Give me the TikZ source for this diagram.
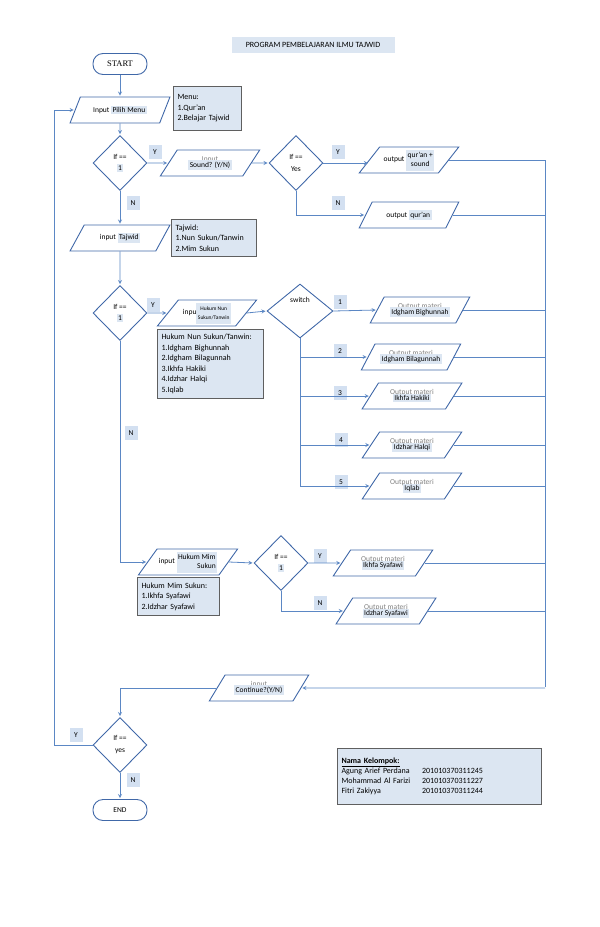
\documentclass[tikz,border=0pt]{standalone}
\usepackage{fontspec}
\setmainfont{Carlito}
\newfontfamily\startfont{Liberation Serif}
\usepackage{tikz}
\usetikzlibrary{arrows,shapes}
\usetikzlibrary{positioning}

\definecolor{lineblue}{HTML}{5B87C4}
\definecolor{edgeblue}{HTML}{4068A8}
\definecolor{boxfill}{HTML}{DCE6F2}
\definecolor{tagfill}{HTML}{D3E0F1}
\definecolor{boxedge}{HTML}{5F5F5F}
\newcommand{\hl}[1]{{\setlength{\fboxsep}{1.5pt}\colorbox{boxfill}{#1}}}
\newcommand{\hlb}[1]{{\setlength{\fboxsep}{1.5pt}\colorbox{boxfill}{\begin{tabular}{@{}c@{}}#1\end{tabular}}}}

\begin{document}
\begin{tikzpicture}[x=1pt,y=-1pt,->,>=stealth,shorten >=1pt,
        font=\fontsize{7.5}{9}\selectfont,
        term/.style={rectangle,rounded corners=10pt,draw=edgeblue,line width=.9pt,minimum width=54,minimum height=21},
        io/.style={trapezium,trapezium left angle=50,trapezium right angle=130,trapezium stretches=true,
          draw=edgeblue,line width=.9pt,minimum width=100,minimum height=26,inner sep=0,align=center},
        cond/.style={diamond,draw=edgeblue,line width=.9pt,minimum width=54,minimum height=55,inner sep=0,align=center},
        note/.style={rectangle,draw=boxedge,line width=1pt,fill=boxfill,align=left,inner sep=4pt,anchor=north west,
          font=\fontsize{8}{10.5}\selectfont},
        tag/.style={rectangle,fill=tagfill,minimum width=13,minimum height=14,inner sep=1pt},
        link/.style={draw=lineblue,line width=.8pt},
        merge/.style={draw=lineblue,line width=.8pt,-}]
        \useasboundingbox (0,0) rectangle (600,927);

        \node[fill=boxfill,minimum width=163,minimum height=16,font=\fontsize{8}{9}\selectfont] (title) at (313,45)
          {PROGRAM PEMBELAJARAN ILMU TAJWID};

        % menu
        \node[term]  (st) at (120,64) {\startfont\fontsize{8.5}{10}\selectfont START};
        \node[io]    (p1) at (120,110) {Input \hl{Pilih Menu}};
        \node[note,text width=60,minimum height=44] (m1) at (173,86) {Menu:\\1.Qur'an\\2.Belajar Tajwid};
        \node[cond]  (d1) at (120,163) {If ==\\[2pt]\hl{1}};
        \node[tag]   (y1) at (155,152) {Y};
        \node[tag]   (n1) at (133,203) {N};

        % qur'an
        \node[io]    (p2) at (210,163) {\textcolor{gray}{Input}\\[-3pt]\hl{Sound? (Y/N)}};
        \node[cond]  (d2) at (296,163) {If ==\\[3pt]Yes};
        \node[tag]   (y2) at (338,152) {Y};
        \node[tag]   (n2) at (338,203) {N};
        \node[io]    (o1) at (409,160) {output \hlb{qur'an +\\sound}};
        \node[io]    (o2) at (409,215) {output \hl{qur'an}};

        % tajwid
        \node[io]    (p3) at (120,238) {input \hl{Tajwid}};
        \node[note,text width=77,minimum height=37] (m2) at (171,219) {Tajwid:\\1.Nun Sukun/Tanwin\\2.Mim Sukun};
        \node[cond]  (d3) at (120,313) {If ==\\[2pt]\hl{1}};
        \node[tag]   (y3) at (153,305) {Y};
        \node[tag]   (n3) at (131,433) {N};

        % nun sukun / tanwin
        \node[io]    (p4) at (207,313) {inpu\hlb{\fontsize{5.5}{6.5}\selectfont Hukum Nun\\\fontsize{5.5}{6.5}\selectfont Sukun/Tanwin}};
        \node[note,text width=98,minimum height=69] (m3) at (157,329)
          {Hukum Nun Sukun/Tanwin:\\1.Idgham Bighunnah\\2.Idgham Bilagunnah\\3.Ikhfa Hakiki\\4.Idzhar Halqi\\5.Iqlab};
        \node[cond,minimum width=66,minimum height=54] (sw) at (300,311) {switch\\[14pt]};
        \node[io]    (c1) at (420,310) {\textcolor{gray}{Output materi}\\[-3pt]\hl{Idgham Bighunnah}};
        \node[io]    (c2) at (411,357) {\textcolor{gray}{Output materi}\\[-3pt]\hl{Idgham Bilagunnah}};
        \node[io]    (c3) at (412,396) {\textcolor{gray}{Output materi}\\[-3pt]\hl{Ikhfa Hakiki}};
        \node[io]    (c4) at (412,445) {\textcolor{gray}{Output materi}\\[-3pt]\hl{Idzhar Halqi}};
        \node[io]    (c5) at (412,486) {\textcolor{gray}{Output materi}\\[-3pt]\hl{Iqlab}};
        \node[tag]   (t1) at (340,302) {1};
        \node[tag]   (t2) at (340,351) {2};
        \node[tag]   (t3) at (340,393) {3};
        \node[tag]   (t4) at (341,440) {4};
        \node[tag]   (t5) at (341,482) {5};

        % mim sukun
        \node[io]    (p5) at (188,562) {input \hlb{Hukum Mim\\\hfill Sukun}};
        \node[note,text width=74,minimum height=38] (m4) at (137,577) {Hukum Mim Sukun:\\1.Ikhfa Syafawi\\2.Idzhar Syafawi};
        \node[cond]  (d4) at (281,563) {If ==\\[2pt]\hl{1}};
        \node[tag]   (y4) at (320,556) {Y};
        \node[tag]   (n4) at (320,603) {N};
        \node[io]    (o3) at (383,563) {\textcolor{gray}{Output materi}\\[-3pt]\hl{Ikhfa Syafawi}};
        \node[io]    (o4) at (386,611) {\textcolor{gray}{Output materi}\\[-3pt]\hl{Idzhar Syafawi}};

        % continue
        \node[io]    (cont) at (259,688) {\textcolor{gray}{input}\\[-3pt]\hl{Continue?(Y/N)}};
        \node[cond]  (d5) at (120,745) {If ==\\[3pt]yes};
        \node[tag]   (y5) at (76,735) {Y};
        \node[tag]   (n5) at (133,780) {N};
        \node[term]  (en) at (120,810) {END};

        \node[note,text width=196,minimum height=56,font=\fontsize{8}{10}\selectfont] (grp) at (337,748)
          {\begin{tabular}{@{}l@{\hspace{12pt}}l@{}}
           \textbf{\underline{Nama Kelompok:}} & \\
           Agung Arief Perdana & 201010370311245\\
           Mohammad Al Farizi & 201010370311227\\
           Fitri Zakiyya & 201010370311244
           \end{tabular}\\[8pt]};

        \coordinate (rr) at (545,688);
        \coordinate (lp) at (54,745);

        \draw[link] (st) -- (p1);
        \draw[link] (p1) -- (d1);
        \draw[link] (d1.east) -- (p2.west);
        \draw[link] (p2.east) -- (d2.west);
        \draw[link] (d2.east) -- (d2.east -| o1.west);
        \draw[link] (d2.south) |- (o2.west);
        \draw[link] (d1) -- (p3);
        \draw[link] (p3) -- (d3);
        \draw[link] (d3.east) -- (p4.west);
        \draw[link] (p4.east) -- (sw.west);
        \draw[link] (sw.east) -- (c1.west);
        \foreach \i in {2,...,5}
          \draw[link] (sw.south) |- (c\i.west);
        \draw[link] (d3.south) |- (p5.west);
        \draw[link] (p5.east) -- (d4.west);
        \draw[link] (d4.east) -- (o3.west);
        \draw[link] (d4.south) |- (o4.west);
        \foreach \n in {o1,o2,c1,c2,c3,c4,c5,o3,o4}
          \draw[merge] (\n.east) -| (rr);
        \draw[link] (rr) -- (cont.east);
        \draw[link] (cont.west) -| (d5.north);
        \draw[link] (d5.west) -- (lp) |- (p1.west);
        \draw[link] (d5) -- (en);
\end{tikzpicture}
\end{document}
